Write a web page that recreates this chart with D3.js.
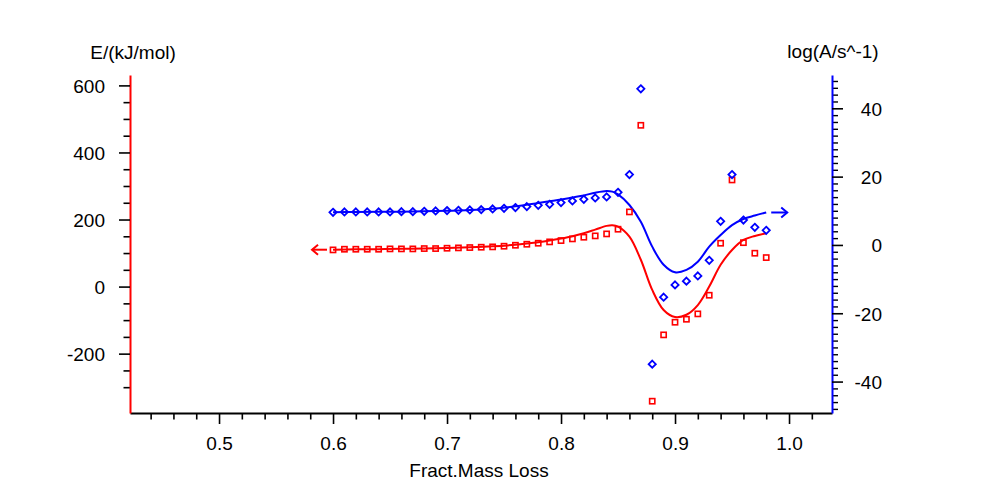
<!DOCTYPE html>
<html>
<head>
<meta charset="utf-8">
<script src="https://cdn.jsdelivr.net/npm/d3@7"></script>
<style>
  body { margin: 0; background: #fff; }
  svg { display: block; font-family: "Liberation Sans", Arial, sans-serif; }
</style>
</head>
<body>
<svg id="chart" width="983" height="490"></svg>
<script>
// ---- data ----
const pointX = [0.60,0.61,0.62,0.63,0.64,0.65,0.66,0.67,0.68,0.69,0.70,0.71,0.72,0.73,0.74,0.75,0.76,0.77,0.78,0.79,
                0.80,0.81,0.82,0.83,0.84,0.85,0.86,0.87,0.88,0.89,0.90,0.91,0.92,0.93,0.94,0.95,0.96,0.97,0.98];
const energyPoints = [109.4,111.4,111.4,111.4,111.4,112.4,112.4,112.4,113.4,113.4,114.4,115.4,116.4,117.4,118.4,120.4,123.3,126.3,129.3,133.3,
                137.2,142.2,147.2,151.2,157.1,171.1,222.7,481,-341.8,-144,-106.3,-97.4,-81.4,-25.8,129.3,318,131,99.5,86.5];
const logAPoints = [9.56,9.66,9.66,9.66,9.66,9.66,9.75,9.75,9.85,9.95,10.05,10.15,10.24,10.34,10.54,10.73,10.93,11.22,11.61,11.90,
                12.39,12.88,13.37,13.75,14.05,15.41,20.6,45.7,-34.9,-15.3,-11.7,-10.6,-9.07,-4.49,6.93,20.6,7.3,5.17,4.29];

const curveX = [0.60,0.62,0.64,0.66,0.68,0.70,0.72,0.74,0.76,0.78,0.79,0.80,0.81,0.82,0.83,0.84,0.845,0.85,
                0.86,0.87,0.88,0.89,0.90,0.91,0.92,0.93,0.94,0.95,0.96,0.97,0.98];
const energyCurve = [110,111,111.5,112.5,113.5,115,117,120,125,132.3,137.2,143.2,150.2,159.1,170,181,183,179,
                149,80,-10,-70,-91,-84,-55,0,65,109,139,151,159];
const logACurve = [9.6,9.65,9.7,9.75,9.85,10.0,10.2,10.6,11.3,12.3,12.8,13.3,13.9,14.5,15.3,15.8,15.6,14.8,
                11.7,6.8,-0.5,-5.8,-8.0,-7.3,-4.9,-0.5,2.9,5.8,7.6,8.6,9.5];

const xTicks = [0.5,0.6,0.7,0.8,0.9,1.0];
const xMinor = [0.44,0.46,0.48,0.52,0.54,0.56,0.58,0.62,0.64,0.66,0.68,0.72,0.74,0.76,0.78,0.82,0.84,0.86,0.88,0.92,0.94,0.96,0.98,1.02];
const leftTicks = [-200,0,200,400,600];
const leftMinor = [-300,-250,-150,-100,-50,50,100,150,250,300,350,450,500,550];
const rightTicks = [-40,-20,0,20,40];
const rightMinor = d3.range(-48, 49, 2).filter(v => v % 20 !== 0);

const xTitle = "Fract.Mass Loss";
const leftTitle = "E/(kJ/mol)";
const rightTitle = "log(A/s^-1)";

// ---- layout ----
const L = 130, R = 832, T = 75, B = 413;
const RED = "#ff0000", BLUE = "#0000ff";
const svg = d3.select("#chart");

const x = d3.scaleLinear().domain([0.4219, 1.0377]).range([L, R]);
const yL = d3.scaleLinear().domain([-377, 631]).range([B, T]);
const yR = d3.scaleLinear().domain([-49.2, 49.75]).range([B, T]);

const FS = 19;
const plainInt = d => String(d);   // hyphen-minus, as in the reference

function styleAxis(g, color) {
  g.selectAll(".tick line").attr("stroke", "#000").attr("stroke-width", 1.6);
  g.select(".domain").attr("stroke", color).attr("stroke-width", 2);
  g.selectAll("text").attr("fill", "#000").attr("font-size", FS).attr("font-family", "Liberation Sans, Arial, sans-serif");
}

// bottom axis
const gxm = svg.append("g").attr("transform", `translate(0,${B})`)
  .call(d3.axisBottom(x).tickValues(xMinor).tickSize(6.5).tickSizeOuter(0).tickFormat(""));
gxm.select(".domain").remove();
gxm.selectAll(".tick line").attr("stroke", "#000").attr("stroke-width", 1.6);
const gx = svg.append("g").attr("transform", `translate(0,${B})`)
  .call(d3.axisBottom(x).tickValues(xTicks).tickSize(11).tickSizeOuter(0).tickFormat(d3.format(".1f")));
styleAxis(gx, "#000");
gx.selectAll("text").attr("y", 37).attr("dy", null);

// left axis
const glm = svg.append("g").attr("transform", `translate(${L},0)`)
  .call(d3.axisLeft(yL).tickValues(leftMinor).tickSize(6.5).tickSizeOuter(0).tickFormat(""));
glm.select(".domain").remove();
glm.selectAll(".tick line").attr("stroke", "#000").attr("stroke-width", 1.6);
const gl = svg.append("g").attr("transform", `translate(${L},0)`)
  .call(d3.axisLeft(yL).tickValues(leftTicks).tickSize(11).tickSizeOuter(0).tickPadding(14).tickFormat(plainInt));
styleAxis(gl, RED);
gl.selectAll("text").attr("dy", "0.36em");

// right axis
const grm = svg.append("g").attr("transform", `translate(${R},0)`)
  .call(d3.axisRight(yR).tickValues(rightMinor).tickSize(6).tickSizeOuter(0).tickFormat(""));
grm.select(".domain").remove();
grm.selectAll(".tick line").attr("stroke", "#000").attr("stroke-width", 1.4);
const gr = svg.append("g").attr("transform", `translate(${R},0)`)
  .call(d3.axisRight(yR).tickValues(rightTicks).tickSize(11).tickSizeOuter(0).tickFormat(plainInt));
styleAxis(gr, BLUE);
gr.selectAll("text").attr("x", 50).attr("text-anchor", "end").attr("dy", "0.36em");

// titles
svg.append("text").attr("x", (L + R) / 2 - 2).attr("y", 477).attr("text-anchor", "middle")
  .attr("font-size", FS).text(xTitle);
svg.append("text").attr("x", L + 3).attr("y", 59).attr("text-anchor", "middle")
  .attr("font-size", FS).text(leftTitle);
svg.append("text").attr("x", R + 1).attr("y", 58).attr("text-anchor", "middle")
  .attr("font-size", FS).text(rightTitle);

// curves
const redLine = d3.line().x((d, i) => x(curveX[i])).y(d => yL(d)).curve(d3.curveCatmullRom.alpha(0.5));
const blueLine = d3.line().x((d, i) => x(curveX[i])).y(d => yR(d)).curve(d3.curveCatmullRom.alpha(0.5));
svg.append("path").attr("d", redLine(energyCurve)).attr("fill", "none").attr("stroke", RED).attr("stroke-width", 2);
svg.append("path").attr("d", blueLine(logACurve)).attr("fill", "none").attr("stroke", BLUE).attr("stroke-width", 2);

// axis-indicating arrows
const rx0 = x(curveX[0]), ry0 = yL(energyCurve[0]);
const ra = svg.append("g").attr("stroke", RED).attr("stroke-width", 2).attr("fill", "none");
ra.append("line").attr("x1", rx0 - 6).attr("x2", rx0 - 21).attr("y1", ry0).attr("y2", ry0);
ra.append("path").attr("d", `M${rx0 - 15},${ry0 - 5}L${rx0 - 21},${ry0}L${rx0 - 15},${ry0 + 5}`);
const bxn = x(curveX[curveX.length - 1]), byn = yR(logACurve[logACurve.length - 1]);
const ba = svg.append("g").attr("stroke", BLUE).attr("stroke-width", 2).attr("fill", "none");
ba.append("line").attr("x1", bxn + 5).attr("x2", bxn + 21).attr("y1", byn).attr("y2", byn);
ba.append("path").attr("d", `M${bxn + 15},${byn - 5}L${bxn + 21},${byn}L${bxn + 15},${byn + 5}`);

// points
svg.append("g").selectAll("rect").data(energyPoints).join("rect")
  .attr("x", (d, i) => x(pointX[i]) - 2.6).attr("y", d => yL(d) - 2.6)
  .attr("width", 5.2).attr("height", 5.2)
  .attr("fill", "none").attr("stroke", RED).attr("stroke-width", 1.6);
svg.append("g").selectAll("path").data(logAPoints).join("path")
  .attr("d", (d, i) => { const cx = x(pointX[i]), cy = yR(d), r = 3.6;
    return `M${cx},${cy - r}L${cx + r},${cy}L${cx},${cy + r}L${cx - r},${cy}Z`; })
  .attr("fill", "none").attr("stroke", BLUE).attr("stroke-width", 1.8);
</script>
</body>
</html>
